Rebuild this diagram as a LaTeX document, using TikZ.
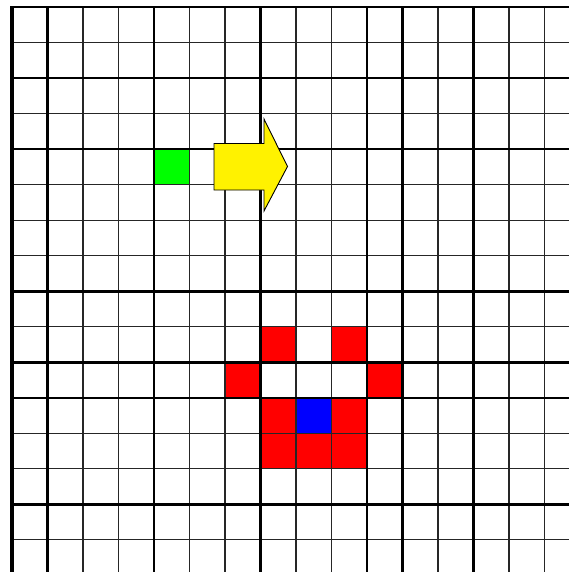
\documentclass[tikz,border=0pt]{standalone}
\begin{document}
\begin{tikzpicture}[x=1pt,y=-1pt,
    thinline/.style={line width=1.3pt, black!85},
    thickline/.style={line width=2.4pt, black}]
    \useasboundingbox (0,0) rectangle (569,572);
    \fill[white] (0,0) rectangle (569,572);
    % celulas coloridas: coluna/linha
    \foreach \c/\r in {7/9,9/9,6/10,10/10,7/11,9/11,7/12,8/12,9/12}
        \fill[red] (12+35.5*\c,7.3+35.5*\r) rectangle ++(35.5,35.5);
    \fill[blue] (12+35.5*8,7.3+35.5*11) rectangle ++(35.5,35.5);
    \fill[green] (12+35.5*4,7.3+35.5*4) rectangle ++(35.5,35.5);
    % grade fina
    \foreach \i in {0,...,15} \draw[thinline] (12+35.5*\i,7.3) -- (12+35.5*\i,572);
    \foreach \j in {0,...,15} \draw[thinline] (12,7.3+35.5*\j) -- (569,7.3+35.5*\j);
    % linhas grossas
    \foreach \i in {1,4,7,10,11,13} \draw[thickline] (12+35.5*\i,7.3) -- (12+35.5*\i,572);
    \foreach \j in {2,4,8,10,11,14} \draw[thickline] (12,7.3+35.5*\j) -- (569,7.3+35.5*\j);
    \draw[line width=1.8pt] (11,7.3) -- (569,7.3);
    \draw[line width=3.2pt] (12,6.5) -- (12,572);
    % seta amarela
    \draw[fill=yellow, line width=0.9pt] (214,143.5) -- (264,143.5) -- (264,119) -- (287.5,166.5)
        -- (264,211) -- (264,190) -- (214,190) -- cycle;
\end{tikzpicture}
\end{document}
